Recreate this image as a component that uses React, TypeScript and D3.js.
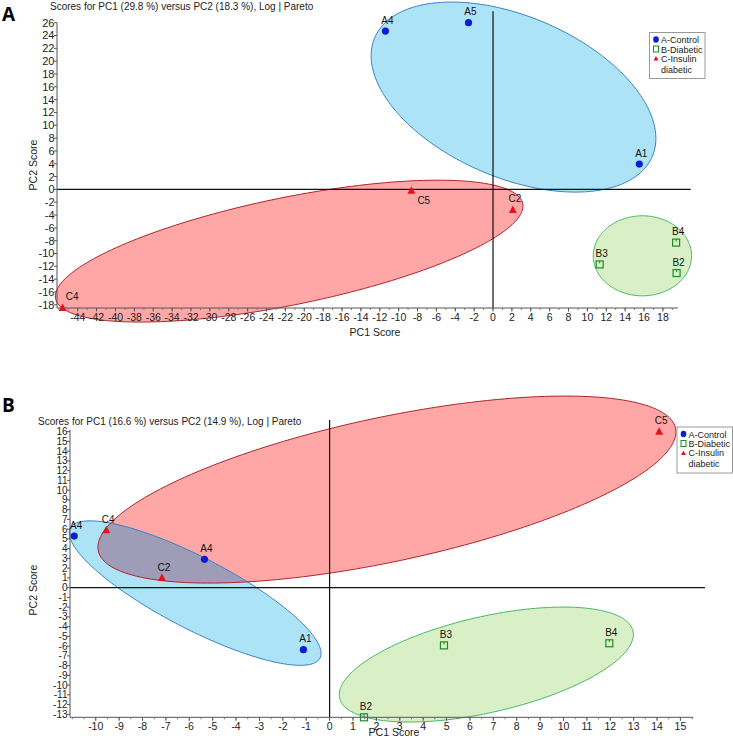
import React from "react";
import * as d3 from "d3";

// ---------- Panel A data ----------
const aLabels = ["A4", "A5", "A1", "C5", "C2", "C4", "B4", "B2", "B3"];
const aX = [-11.4, -2.6, 15.5, -8.65, 2.1, -45.6, 19.4, 19.45, 11.3];
const aY = [24.7, 26.0, 3.95, -0.2, -3.2, -18.5, -8.3, -13.05, -11.7];
const aGroup = ["A", "A", "A", "C", "C", "C", "B", "B", "B"];
const aLabelPos = ["above", "above", "above", "belowRight", "above", "aboveRight", "above", "above", "above"];
const aTitle = "Scores for PC1 (29.8 %) versus PC2 (18.3 %), Log | Pareto";
const aXTicks = d3.range(-44, 19, 2);
const aYTicks = d3.range(-18, 27, 2);
// ellipses: group, center x, center y, conjugate semi-diameters (u, v) in data units
const aEllGroup = ["A", "C", "B"];
const aEllC = [[2.17, 14.4], [-21.6, -9.63], [15.83, -10.36]];
const aEllU = [[14.71, -9.25], [24.75, 7.42], [5.21, 0]];
const aEllV = [[-3.35, -11.58], [1.134, -8.21], [0, 6.24]];

// ---------- Panel B data ----------
const bLabels = ["A4", "C4", "A4", "C2", "A1", "B2", "B3", "B4", "C5"];
const bX = [-10.92, -9.55, -5.35, -7.17, -1.12, 1.47, 4.89, 11.96, 14.09];
const bY = [5.29, 5.88, 2.9, 0.98, -6.36, -13.3, -5.92, -5.71, 15.98];
const bGroup = ["A", "C", "A", "C", "A", "B", "B", "B", "C"];
const bLabelPos = ["above", "above", "above", "above", "above", "above", "above", "above", "above"];
const bTitle = "Scores for PC1 (16.6 %) versus PC2 (14.9 %), Log | Pareto";
const bXTicks = d3.range(-10, 16, 1);
const bYTicks = d3.range(-13, 17, 1);
const bEllGroup = ["A", "C", "B"];
const bEllC = [[-5.75, -0.56], [2.45, 10.06], [6.7, -7.89]];
const bEllU = [[5.34, -6.66], [12.34, 6.29], [6.27, 3.44]];
const bEllV = [[-0.703, -3.25], [0.641, -7.24], [0.457, -4.79]];

const legendNames = ["A-Control", "B-Diabetic", "C-Insulin", "diabetic"];

const FONT = "'Liberation Sans', Arial, sans-serif";
const fills: Record<string, string> = { A: "#ade3f7", B: "#d9f0c7", C: "#ffa7a7" };
const strokes: Record<string, string> = { A: "#3b82c4", B: "#46b86a", C: "#b0242c" };
const overlapFill = "#9e9cb6";

function ellipsePts(c: number[], u: number[], v: number[]) {
  return d3.range(0, 200).map((i) => {
    const t = (i / 200) * Math.PI * 2;
    return [c[0] + u[0] * Math.cos(t) + v[0] * Math.sin(t), c[1] + u[1] * Math.cos(t) + v[1] * Math.sin(t)];
  });
}

function Marker({ g, x, y }: { g: string; x: number; y: number }) {
  if (g === "A") return <circle cx={x} cy={y} r={3.6} fill="#0b1ed0" />;
  if (g === "B")
    return (
      <g>
        <rect x={x - 3.5} y={y - 3.5} width={7} height={7} fill="none" stroke="#1e8c24" strokeWidth={1.2} />
        <line x1={x} x2={x} y1={y - 3.5} y2={y - 1} stroke="#1e8c24" strokeWidth={1} />
      </g>
    );
  return <path d={`M${x},${y - 4.5}L${x + 4},${y + 3}L${x - 4},${y + 3}Z`} fill="#e3121c" />;
}

function Legend({ x, y }: { x: number; y: number }) {
  return (
    <g fontFamily={FONT} fontSize={9} fill="#222">
      <rect x={x} y={y} width={55.5} height={46} fill="#fff" stroke="#9a9a9a" strokeWidth={1} />
      <ellipse cx={x + 6.5} cy={y + 7} rx={2.8} ry={3.3} fill="#0b1ed0" />
      <rect x={x + 4} y={y + 13.5} width={5} height={6} fill="none" stroke="#1e8c24" strokeWidth={1} />
      <path d={`M${x + 6.5},${y + 23.5}L${x + 9},${y + 28}L${x + 4},${y + 28}Z`} fill="#e3121c" />
      <text x={x + 11.5} y={y + 10.5}>{legendNames[0]}</text>
      <text x={x + 11.5} y={y + 20}>{legendNames[1]}</text>
      <text x={x + 11.5} y={y + 29.3}>{legendNames[2]}</text>
      <text x={x + 11.5} y={y + 40}>{legendNames[3]}</text>
    </g>
  );
}

type PanelProps = {
  xDomain: [number, number];
  xRange: [number, number];
  yDomain: [number, number];
  yRange: [number, number];
  xTicks: number[];
  yTicks: number[];
  minorStep: number;
  xExt: number;
  yExt: number;
  labels: string[];
  xs: number[];
  ys: number[];
  groups: string[];
  labelPos: string[];
  ellGroup: string[];
  ellC: number[][];
  ellU: number[][];
  ellV: number[][];
  overlap: boolean;
  id: string;
  yTickFont: number;
  xTickFont: number;
};

function Panel(p: PanelProps) {
  const xs = d3.scaleLinear().domain(p.xDomain).range(p.xRange);
  const ys = d3.scaleLinear().domain(p.yDomain).range(p.yRange);
  const line = d3
    .line<number[]>()
    .x((d) => xs(d[0]))
    .y((d) => ys(d[1]))
    .curve(d3.curveLinearClosed);
  const paths = p.ellGroup.map((g, i) => ({ g, d: line(ellipsePts(p.ellC[i], p.ellU[i], p.ellV[i])) as string }));
  const x0 = p.xRange[0];
  const yb = p.yRange[0];
  const minor = d3.range(Math.ceil(p.xDomain[0] / p.minorStep) * p.minorStep, p.xDomain[1], p.minorStep);
  const pathA = paths.find((q) => q.g === "A")!.d;
  const pathC = paths.find((q) => q.g === "C")!.d;
  return (
    <g>
      <defs>
        <clipPath id={`clip-${p.id}`}>
          <path d={pathA} />
        </clipPath>
      </defs>
      {paths.map((q, i) => (
        <path key={"f" + i} d={q.d} fill={fills[q.g]} stroke="none" />
      ))}
      {p.overlap && <path d={pathC} fill={overlapFill} clipPath={`url(#clip-${p.id})`} />}
      {paths.map((q, i) => (
        <path key={"s" + i} d={q.d} fill="none" stroke={strokes[q.g]} strokeWidth={1} />
      ))}
      {/* zero lines */}
      <line x1={x0} x2={xs(p.xExt)} y1={ys(0)} y2={ys(0)} stroke="#111" strokeWidth={1.2} />
      <line x1={xs(0)} x2={xs(0)} y1={ys(p.yExt)} y2={yb} stroke="#111" strokeWidth={1.2} />
      {/* axes */}
      <line x1={x0} x2={x0} y1={p.yRange[1]} y2={yb} stroke="#555" strokeWidth={1} />
      <line x1={x0} x2={p.xRange[1]} y1={yb} y2={yb} stroke="#555" strokeWidth={1} />
      {p.yTicks.map((t) => (
        <g key={"yt" + t}>
          <line x1={x0 - 3} x2={x0} y1={ys(t)} y2={ys(t)} stroke="#555" />
          <text x={x0 - 2.5} y={ys(t)} dy="0.36em" textAnchor="end" fontSize={p.yTickFont} fontFamily={FONT} fill="#222">
            {t}
          </text>
        </g>
      ))}
      {minor.map((t) => (
        <line key={"mx" + t} x1={xs(t)} x2={xs(t)} y1={yb} y2={yb + 2} stroke="#777" />
      ))}
      {p.xTicks.map((t) => (
        <g key={"xt" + t}>
          <line x1={xs(t)} x2={xs(t)} y1={yb} y2={yb + 3.5} stroke="#555" />
          <text x={xs(t)} y={yb + 12.5} textAnchor="middle" fontSize={p.xTickFont} fontFamily={FONT} fill="#222">
            {t}
          </text>
        </g>
      ))}
      {/* points */}
      {p.xs.map((_, i) => {
        const px = xs(p.xs[i]);
        const py = ys(p.ys[i]);
        const pos = p.labelPos[i];
        let lx = px + 2,
          ly = py - 7.5,
          anchor = "middle";
        if (pos === "belowRight") {
          lx = px + 6;
          ly = py + 13;
          anchor = "start";
        } else if (pos === "aboveRight") {
          lx = px + 3;
          ly = py - 8;
          anchor = "start";
        }
        return (
          <g key={"p" + i}>
            <Marker g={p.groups[i]} x={px} y={py} />
            <text x={lx} y={ly} textAnchor={anchor} fontSize={10} fontFamily={FONT} fill="#111">
              {p.labels[i]}
            </text>
          </g>
        );
      })}
    </g>
  );
}

export default function App() {
  return (
    <svg width={733} height={738} style={{ position: "absolute", left: 0, top: 0, background: "#fff" }}>
      <rect width={733} height={738} fill="#fff" />
      {/* Panel A */}
      <text x={2} y={21} fontSize={19} fontWeight="bold" fontFamily="'Open Sans', 'DejaVu Sans', sans-serif">A</text>
      <text x={50} y={10} fontSize={10} fontFamily={FONT} fill="#222">{aTitle}</text>
      <Panel
        id="a"
        xDomain={[-46.2, 19.6]}
        xRange={[57, 678]}
        yDomain={[-18.5, 26]}
        yRange={[308, 22.7]}
        xTicks={aXTicks}
        yTicks={aYTicks}
        minorStep={1}
        xExt={20.95}
        yExt={27.8}
        labels={aLabels}
        xs={aX}
        ys={aY}
        groups={aGroup}
        labelPos={aLabelPos}
        ellGroup={aEllGroup}
        ellC={aEllC}
        ellU={aEllU}
        ellV={aEllV}
        overlap={false}
        yTickFont={11}
        xTickFont={10.5}
      />
      <text transform="translate(37,165) rotate(-90)" textAnchor="middle" fontSize={10.5} fontFamily={FONT} fill="#222">PC2 Score</text>
      <text x={375} y={336} textAnchor="middle" fontSize={10.5} fontFamily={FONT} fill="#222">PC1 Score</text>
      <Legend x={649.5} y={32.5} />

      {/* Panel B */}
      <text x={2} y={411.5} fontSize={19} fontWeight="bold" fontFamily="'Open Sans', 'DejaVu Sans', sans-serif">B</text>
      <text x={38} y={424.5} fontSize={10} fontFamily={FONT} fill="#222">{bTitle}</text>
      <Panel
        id="b"
        xDomain={[-11.1, 15.55]}
        xRange={[70, 693.3]}
        yDomain={[-13.3, 16.2]}
        yRange={[717.3, 429.7]}
        xTicks={bXTicks}
        yTicks={bYTicks}
        minorStep={0.5}
        xExt={16.05}
        yExt={17.2}
        labels={bLabels}
        xs={bX}
        ys={bY}
        groups={bGroup}
        labelPos={bLabelPos}
        ellGroup={bEllGroup}
        ellC={bEllC}
        ellU={bEllU}
        ellV={bEllV}
        overlap={true}
        yTickFont={10}
        xTickFont={10.5}
      />
      <text transform="translate(37,590) rotate(-90)" textAnchor="middle" fontSize={10.5} fontFamily={FONT} fill="#222">PC2 Score</text>
      <text x={394} y={736} textAnchor="middle" fontSize={10.5} fontFamily={FONT} fill="#222">PC1 Score</text>
      <Legend x={677} y={427} />
    </svg>
  );
}
